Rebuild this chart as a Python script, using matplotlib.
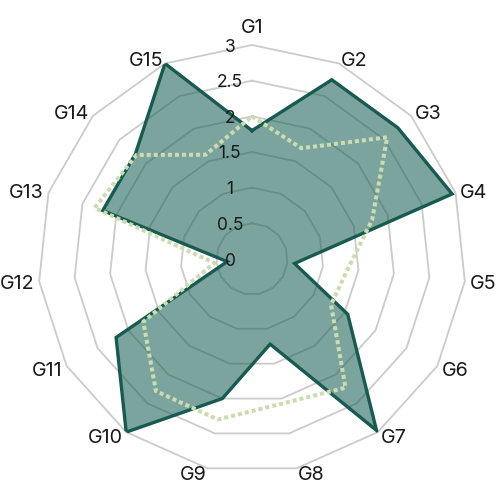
import numpy as np
import matplotlib
matplotlib.use("Agg")
import matplotlib.pyplot as plt

categories = ["G1", "G2", "G3", "G4", "G5", "G6", "G7", "G8", "G9", "G10",
              "G11", "G12", "G13", "G14", "G15"]
series_a = [1.8, 2.75, 2.75, 2.95, 0.6, 1.55, 2.97, 1.22, 2.0, 3.0,
            2.2, 0.35, 2.2, 2.2, 3.0]
series_b = [2.0, 1.7, 2.55, 1.77, 1.35, 1.28, 2.23, 2.07, 2.3, 2.29,
            1.76, 0.53, 2.32, 2.18, 1.6]
tick_values = [0, 0.5, 1, 1.5, 2, 2.5, 3]
tick_labels = ["0", "0.5", "1", "1.5", "2", "2.5", "3"]
r_max = 3
FONT = ["Inter", "DejaVu Sans"]

n = len(categories)
angles = np.arange(n) * 2 * np.pi / n
ang_closed = np.append(angles, angles[0])

fig = plt.figure(figsize=(5, 5), dpi=100)
ax = fig.add_axes([0.076, 0.054, 0.856, 0.856], projection="polar")
ax.set_theta_zero_location("N")
ax.set_theta_direction(-1)
ax.set_ylim(0, r_max)
ax.grid(False)
ax.spines["polar"].set_visible(False)
ax.set_xticks([])
ax.set_yticks([])
ax.patch.set_alpha(0)

# polygon rings
for v in tick_values[1:]:
    ax.plot(ang_closed, [v] * (n + 1), color="#cbcbcb", lw=1.3, zorder=1,
            clip_on=False)

a_closed = np.append(series_a, series_a[0])
b_closed = np.append(series_b, series_b[0])

ax.fill(ang_closed, a_closed, color="#1d6358", alpha=0.58, lw=0, zorder=2)
ax.plot(ang_closed, a_closed, color="#175a50", lw=2.4, zorder=3,
        solid_joinstyle="miter")
ax.plot(ang_closed, b_closed, color="#c9ddb0", lw=2.9, zorder=4,
        linestyle=(0, (1, 0.75)), dash_capstyle="butt")

# category labels, aligned by angle
px_unit = 214 / r_max
for a, lab in zip(angles, categories):
    deg = np.degrees(a)
    if np.isclose(deg, 0):
        ha, va, pad = "center", "bottom", 8
    elif np.isclose(deg, 180):
        ha, va, pad = "center", "top", 8
    elif deg < 180:
        ha, va, pad = "left", "center_baseline", 5
    else:
        ha, va, pad = "right", "center_baseline", 5
    ax.text(a, r_max + pad / px_unit, lab, ha=ha, va=va, fontsize=14.2,
            color="#1a1a1a", family=FONT, clip_on=False)

# radial tick labels (left of the top axis)
for v, lab in zip(tick_values, tick_labels):
    ax.annotate(lab, xy=(0, v), xytext=(-22, 0), textcoords="offset pixels",
                ha="center", va="center_baseline", fontsize=12.5,
                color="#1a1a1a", family=FONT, zorder=6,
                annotation_clip=False)

fig.savefig("out.png", dpi=100)
